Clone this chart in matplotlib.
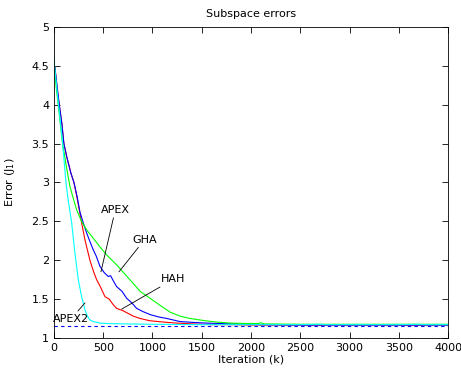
import matplotlib.pyplot as plt

# iteration points and error values
hah_k = [0, 10, 30, 54, 80, 101, 130, 172, 203, 235, 264, 290, 315, 340, 365, 400, 433, 470, 518, 560, 600, 636, 700, 760, 805, 873, 975, 1060, 1144, 1250, 1400, 1600, 1800, 2000, 2500, 3000, 3500, 4000]
hah_v = [4.45, 4.48, 4.25, 4.0, 3.76, 3.5, 3.33, 3.12, 3.0, 2.8, 2.6, 2.42, 2.26, 2.13, 2.0, 1.86, 1.75, 1.66, 1.53, 1.50, 1.43, 1.38, 1.35, 1.31, 1.28, 1.25, 1.22, 1.21, 1.20, 1.19, 1.18, 1.17, 1.17, 1.165, 1.165, 1.165, 1.165, 1.165]

apex_k = [0, 10, 30, 54, 80, 101, 130, 172, 203, 235, 264, 300, 332, 365, 400, 430, 467, 510, 551, 575, 600, 636, 690, 738, 790, 839, 900, 975, 1060, 1144, 1279, 1400, 1550, 1800, 2100, 2500, 3000, 3500, 4000]
apex_v = [4.45, 4.48, 4.25, 4.0, 3.76, 3.5, 3.33, 3.12, 3.0, 2.82, 2.62, 2.47, 2.35, 2.24, 2.13, 2.05, 1.92, 1.84, 1.79, 1.80, 1.74, 1.66, 1.60, 1.51, 1.45, 1.38, 1.34, 1.30, 1.27, 1.25, 1.21, 1.20, 1.19, 1.18, 1.17, 1.165, 1.165, 1.165, 1.165]

gha_k = [0, 10, 25, 44, 65, 88, 120, 162, 195, 230, 280, 332, 400, 467, 540, 636, 720, 805, 873, 975, 1076, 1180, 1279, 1380, 1482, 1600, 1685, 1800, 1950, 2080, 2100, 2130, 2500, 3000, 3500, 4000]
gha_v = [4.6, 4.4, 4.2, 4.0, 3.75, 3.5, 3.25, 2.95, 2.8, 2.65, 2.5, 2.39, 2.28, 2.17, 2.06, 1.94, 1.82, 1.70, 1.60, 1.51, 1.42, 1.33, 1.28, 1.25, 1.23, 1.21, 1.20, 1.19, 1.185, 1.185, 1.195, 1.18, 1.175, 1.175, 1.175, 1.175]

apex2_k = [0, 10, 30, 55, 88, 122, 145, 180, 213, 247, 281, 315, 340, 365, 400, 467, 535, 700, 1000, 1500, 2000, 2500, 2700, 2750, 3000, 3500, 3700, 3750, 4000]
apex2_v = [4.6, 4.45, 4.2, 3.9, 3.5, 3.0, 2.77, 2.48, 2.09, 1.75, 1.53, 1.36, 1.28, 1.23, 1.21, 1.19, 1.185, 1.18, 1.175, 1.17, 1.17, 1.17, 1.175, 1.17, 1.17, 1.17, 1.175, 1.17, 1.17]

optimum = 1.155

fig = plt.figure(figsize=(4.61, 3.75), dpi=100)
ax = fig.add_axes([0.117, 0.099, 0.855, 0.829])

ax.plot(hah_k, hah_v, color='#ff0000', linewidth=0.8)
ax.plot(apex_k, apex_v, color='#0000ff', linewidth=0.8)
ax.plot(gha_k, gha_v, color='#00ff00', linewidth=0.8)
ax.plot(apex2_k, apex2_v, color='#00ffff', linewidth=0.8)
ax.axhline(optimum, color='#0000ff', linestyle='--', linewidth=0.8, dashes=(3, 3))

# annotations with leader lines
line = dict(arrowstyle='-', color='black', linewidth=0.6, shrinkA=0, shrinkB=0)
ax.annotate('APEX', xy=(477, 1.85), xytext=(475, 2.58), fontsize=8,
            ha='left', va='bottom', arrowprops=line)
ax.annotate('GHA', xy=(660, 1.85), xytext=(795, 2.2), fontsize=8,
            ha='left', va='bottom', arrowprops=line)
ax.annotate('HAH', xy=(687, 1.37), xytext=(1090, 1.69), fontsize=8,
            ha='left', va='bottom', arrowprops=line)
ax.annotate('APEX2', xy=(315, 1.45), xytext=(175, 1.31), fontsize=8,
            ha='center', va='top', arrowprops=line)

ax.set_xlim(0, 4000)
ax.set_ylim(1, 5)
ax.set_xticks(range(0, 4001, 500))
ax.set_yticks([1, 1.5, 2, 2.5, 3, 3.5, 4, 4.5, 5])
ax.set_yticklabels(['1', '1.5', '2', '2.5', '3', '3.5', '4', '4.5', '5'])
ax.tick_params(direction='in', labelsize=8, length=4, width=0.6, top=True, right=True)
for s in ax.spines.values():
    s.set_linewidth(0.6)

ax.set_xlabel('Iteration (k)', fontsize=8, labelpad=1)
ax.set_ylabel('Error (J$_1$)', fontsize=8, labelpad=10)
ax.set_title('Subspace errors', fontsize=8, pad=7)

plt.savefig('out.png', dpi=100)
